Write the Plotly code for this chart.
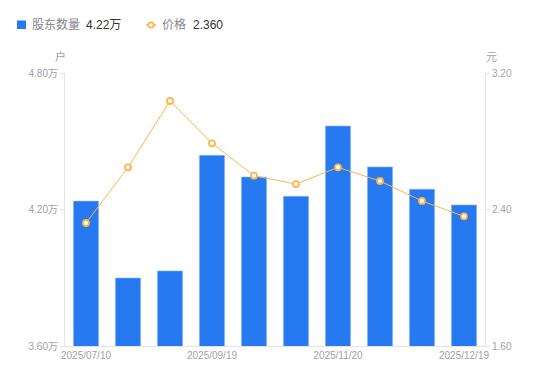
import plotly.graph_objects as go

dates = ["2025/07/10", "2025/07/31", "2025/08/29", "2025/09/19", "2025/09/30",
         "2025/10/31", "2025/11/20", "2025/11/28", "2025/12/10", "2025/12/19"]
holders = [42370, 38990, 39300, 44380, 43430, 42580, 45670, 43870, 42890, 42200]
prices = [2.321, 2.647, 3.036, 2.788, 2.598, 2.549, 2.647, 2.567, 2.450, 2.360]
tick_dates = ["2025/07/10", "2025/09/19", "2025/11/20", "2025/12/19"]
left_ticks = [36000, 42000, 48000]
left_tick_text = ["3.60万", "4.20万", "4.80万"]
right_ticks = [1.6, 2.4, 3.2]
legend_names = ["股东数量", "价格"]
legend_values = ["4.22万", "2.360"]

FONT = "Liberation Sans, Noto Sans CJK SC, sans-serif"
GRAY = "#A0A0AC"
AXIS = "#E3E3E8"
BLUE = "#2779F2"
ORANGE = "#FDB54A"

OFF = 8  # page body margin
W, H = 550 - OFF, 381 - OFF
PL, PR, PT, PB = 65, 485, 73, 346  # plot area in screen px
L, R, T, B = PL - OFF, W - (PR - OFF), PT - OFF, H - (PB - OFF)
PW, PH = PR - PL, PB - PT


def px(x):
    return (x - PL) / PW


def py(y):
    return (PB - y) / PH


fig = go.Figure()
fig.add_trace(go.Bar(
    x=dates, y=holders, name=legend_names[0],
    marker=dict(color=BLUE, line=dict(color="#8DB8F8", width=0.6)),
    yaxis="y",
))
fig.add_trace(go.Scatter(
    x=dates, y=prices, name=legend_names[1],
    mode="lines+markers",
    line=dict(color=ORANGE, width=1),
    marker=dict(symbol="circle", size=6, color="white", line=dict(color=ORANGE, width=1.8)),
    yaxis="y2",
))

shapes = [
    dict(type="rect", xref="paper", yref="paper", x0=px(17), x1=px(26), y0=py(29), y1=py(20.5),
         fillcolor=BLUE, line=dict(width=0)),
    dict(type="line", xref="paper", yref="paper", x0=px(146), x1=px(156), y0=py(25), y1=py(25),
         line=dict(color=ORANGE, width=1.5)),
    dict(type="circle", xref="paper", yref="paper", x0=px(148.3), x1=px(153.7), y0=py(27.7), y1=py(22.3),
         fillcolor="white", line=dict(color=ORANGE, width=1.8)),
]

annotations = [
    dict(text=legend_names[0], x=px(30), y=py(25), font=dict(size=12, color="#86868F")),
    dict(text=legend_values[0], x=px(84), y=py(25), font=dict(size=12, color="#333333")),
    dict(text=legend_names[1], x=px(160), y=py(25), font=dict(size=12, color="#86868F")),
    dict(text=legend_values[1], x=px(191), y=py(25), font=dict(size=12, color="#333333")),
    dict(text="户", x=px(53), y=py(56), font=dict(size=11, color=GRAY)),
    dict(text="元", x=px(484), y=py(57), font=dict(size=11, color=GRAY)),
]
for a in annotations:
    a.update(xref="paper", yref="paper", xanchor="left", yanchor="middle", showarrow=False)

fig.update_layout(
    width=W, height=H,
    margin=dict(l=L, r=R, t=T, b=B, autoexpand=False),
    paper_bgcolor="white", plot_bgcolor="white",
    font=dict(family=FONT, size=10, color=GRAY),
    bargap=0.4,
    showlegend=False,
    shapes=shapes,
    annotations=annotations,
    xaxis=dict(
        type="category", range=[-0.5, len(dates) - 0.5],
        tickmode="array", tickvals=tick_dates, ticktext=tick_dates,
        showline=True, linecolor=AXIS, linewidth=1, showgrid=False, ticks="",
        tickfont=dict(size=10, color=GRAY), zeroline=False, automargin=False,
    ),
    yaxis=dict(
        range=[36000, 48000], tickmode="array", tickvals=left_ticks, ticktext=left_tick_text,
        showline=True, linecolor=AXIS, linewidth=1, showgrid=False, zeroline=False,
        ticks="outside", ticklen=4, tickcolor=AXIS, tickfont=dict(size=10, color=GRAY),
        automargin=False,
    ),
    yaxis2=dict(
        range=[1.6, 3.2], tickmode="array", tickvals=right_ticks, tickformat=".2f",
        overlaying="y", side="right",
        showline=True, linecolor=AXIS, linewidth=1, showgrid=False, zeroline=False,
        ticks="outside", ticklen=4, tickcolor=AXIS, tickfont=dict(size=10, color=GRAY),
        automargin=False,
    ),
)

fig.write_html("out.html")
